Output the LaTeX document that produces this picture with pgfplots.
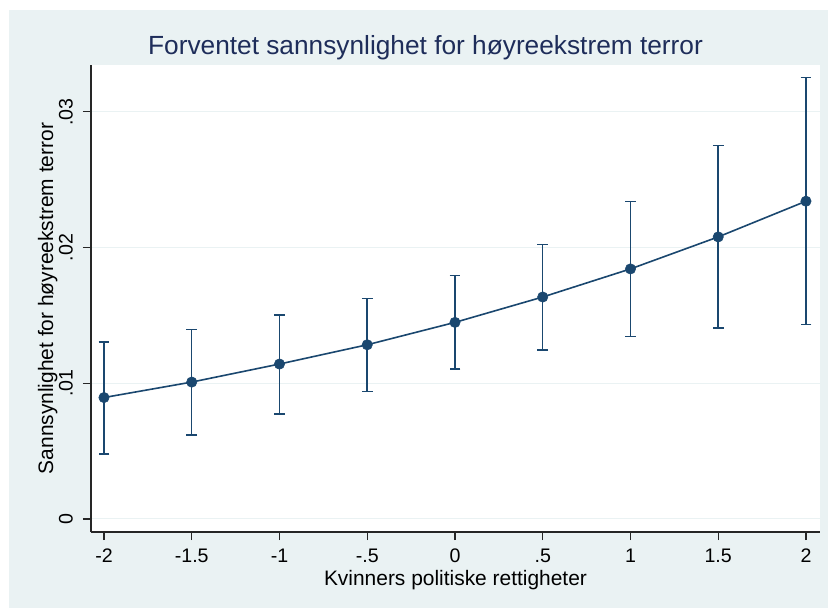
\documentclass[border=0pt]{standalone}
\usepackage{fontspec}
\setmainfont{Liberation Sans}
\usepackage{pgfplots}
\usepackage{pgfplotstable}
\pgfplotsset{compat=1.18}
\definecolor{stnavy}{RGB}{26,71,111}
\definecolor{sttitle}{RGB}{30,45,90}
\definecolor{stbg}{RGB}{234,242,243}
\pgfplotstableread{
x     y        lo       hi
-2    0.00895  0.00480  0.01304
-1.5  0.01009  0.00620  0.01397
-1    0.01142  0.00775  0.01503
-0.5  0.01284  0.00940  0.01626
0     0.01449  0.01107  0.01793
0.5   0.01636  0.01245  0.02022
1     0.01843  0.01345  0.02340
1.5   0.02079  0.01407  0.02753
2     0.02342  0.01432  0.03252
}\datatable
\begin{document}
\begin{tikzpicture}[x=0.75pt,y=0.75pt]
\fill[white] (0,0) rectangle (828,608);
\fill[stbg] (9,0) rectangle (828,598);
\node[anchor=base, text=sttitle, font=\fontsize{19.7}{22}\selectfont, inner sep=0pt] at (425.5,553) {Forventet sannsynlighet for høyreekstrem terror};
\begin{axis}[
  at={(68.25pt,57pt)}, anchor=south west,
  scale only axis, width=546.75pt, height=350.25pt,
  xmin=-2.074, xmax=2.080, ymin=-0.00096, ymax=0.03346,
  axis lines*=left,
  axis line style={black!85, line width=0.8pt},
  axis background/.style={fill=white},
  tick align=outside, major tick length=6pt,
  tick style={black!85, line width=0.8pt},
  xtick={-2,-1.5,-1,-0.5,0,0.5,1,1.5,2},
  xticklabels={-2,-1.5,-1,-.5,0,.5,1,1.5,2},
  ytick={0,0.01,0.02,0.03},
  yticklabels={0,.01,.02,.03},
  scaled y ticks=false,
  ymajorgrids, grid style={stbg, line width=0.75pt},
  tick label style={font=\fontsize{14.7}{17}\selectfont},
  xticklabel style={anchor=north, inner sep=0pt},
  yticklabel style={rotate=90, anchor=south, inner sep=0pt},
  xticklabel shift=6.5pt,
  yticklabel shift=7.5pt,
  label style={font=\fontsize{15.7}{18}\selectfont},
  xlabel={Kvinners politiske rettigheter},
  ylabel={Sannsynlighet for høyreekstrem terror},
  xlabel style={at={(axis description cs:0.5,-0.1135)}, anchor=base},
  ylabel style={at={(axis description cs:-0.0521,0.5)}, anchor=base},
]
\addplot[stnavy, line width=1.2pt, mark=*, mark size=3.9pt,
  mark options={fill=stnavy, draw=stnavy, line width=0.4pt},
  error bars/.cd, y dir=both, y explicit,
  error bar style={line width=1.1pt, stnavy},
  error mark options={rotate=90, stnavy, line width=1.1pt, mark size=4.1pt}]
  table[x=x, y=y, y error plus expr=\thisrow{hi}-\thisrow{y}, y error minus expr=\thisrow{y}-\thisrow{lo}] {\datatable};
\end{axis}
\end{tikzpicture}
\end{document}
